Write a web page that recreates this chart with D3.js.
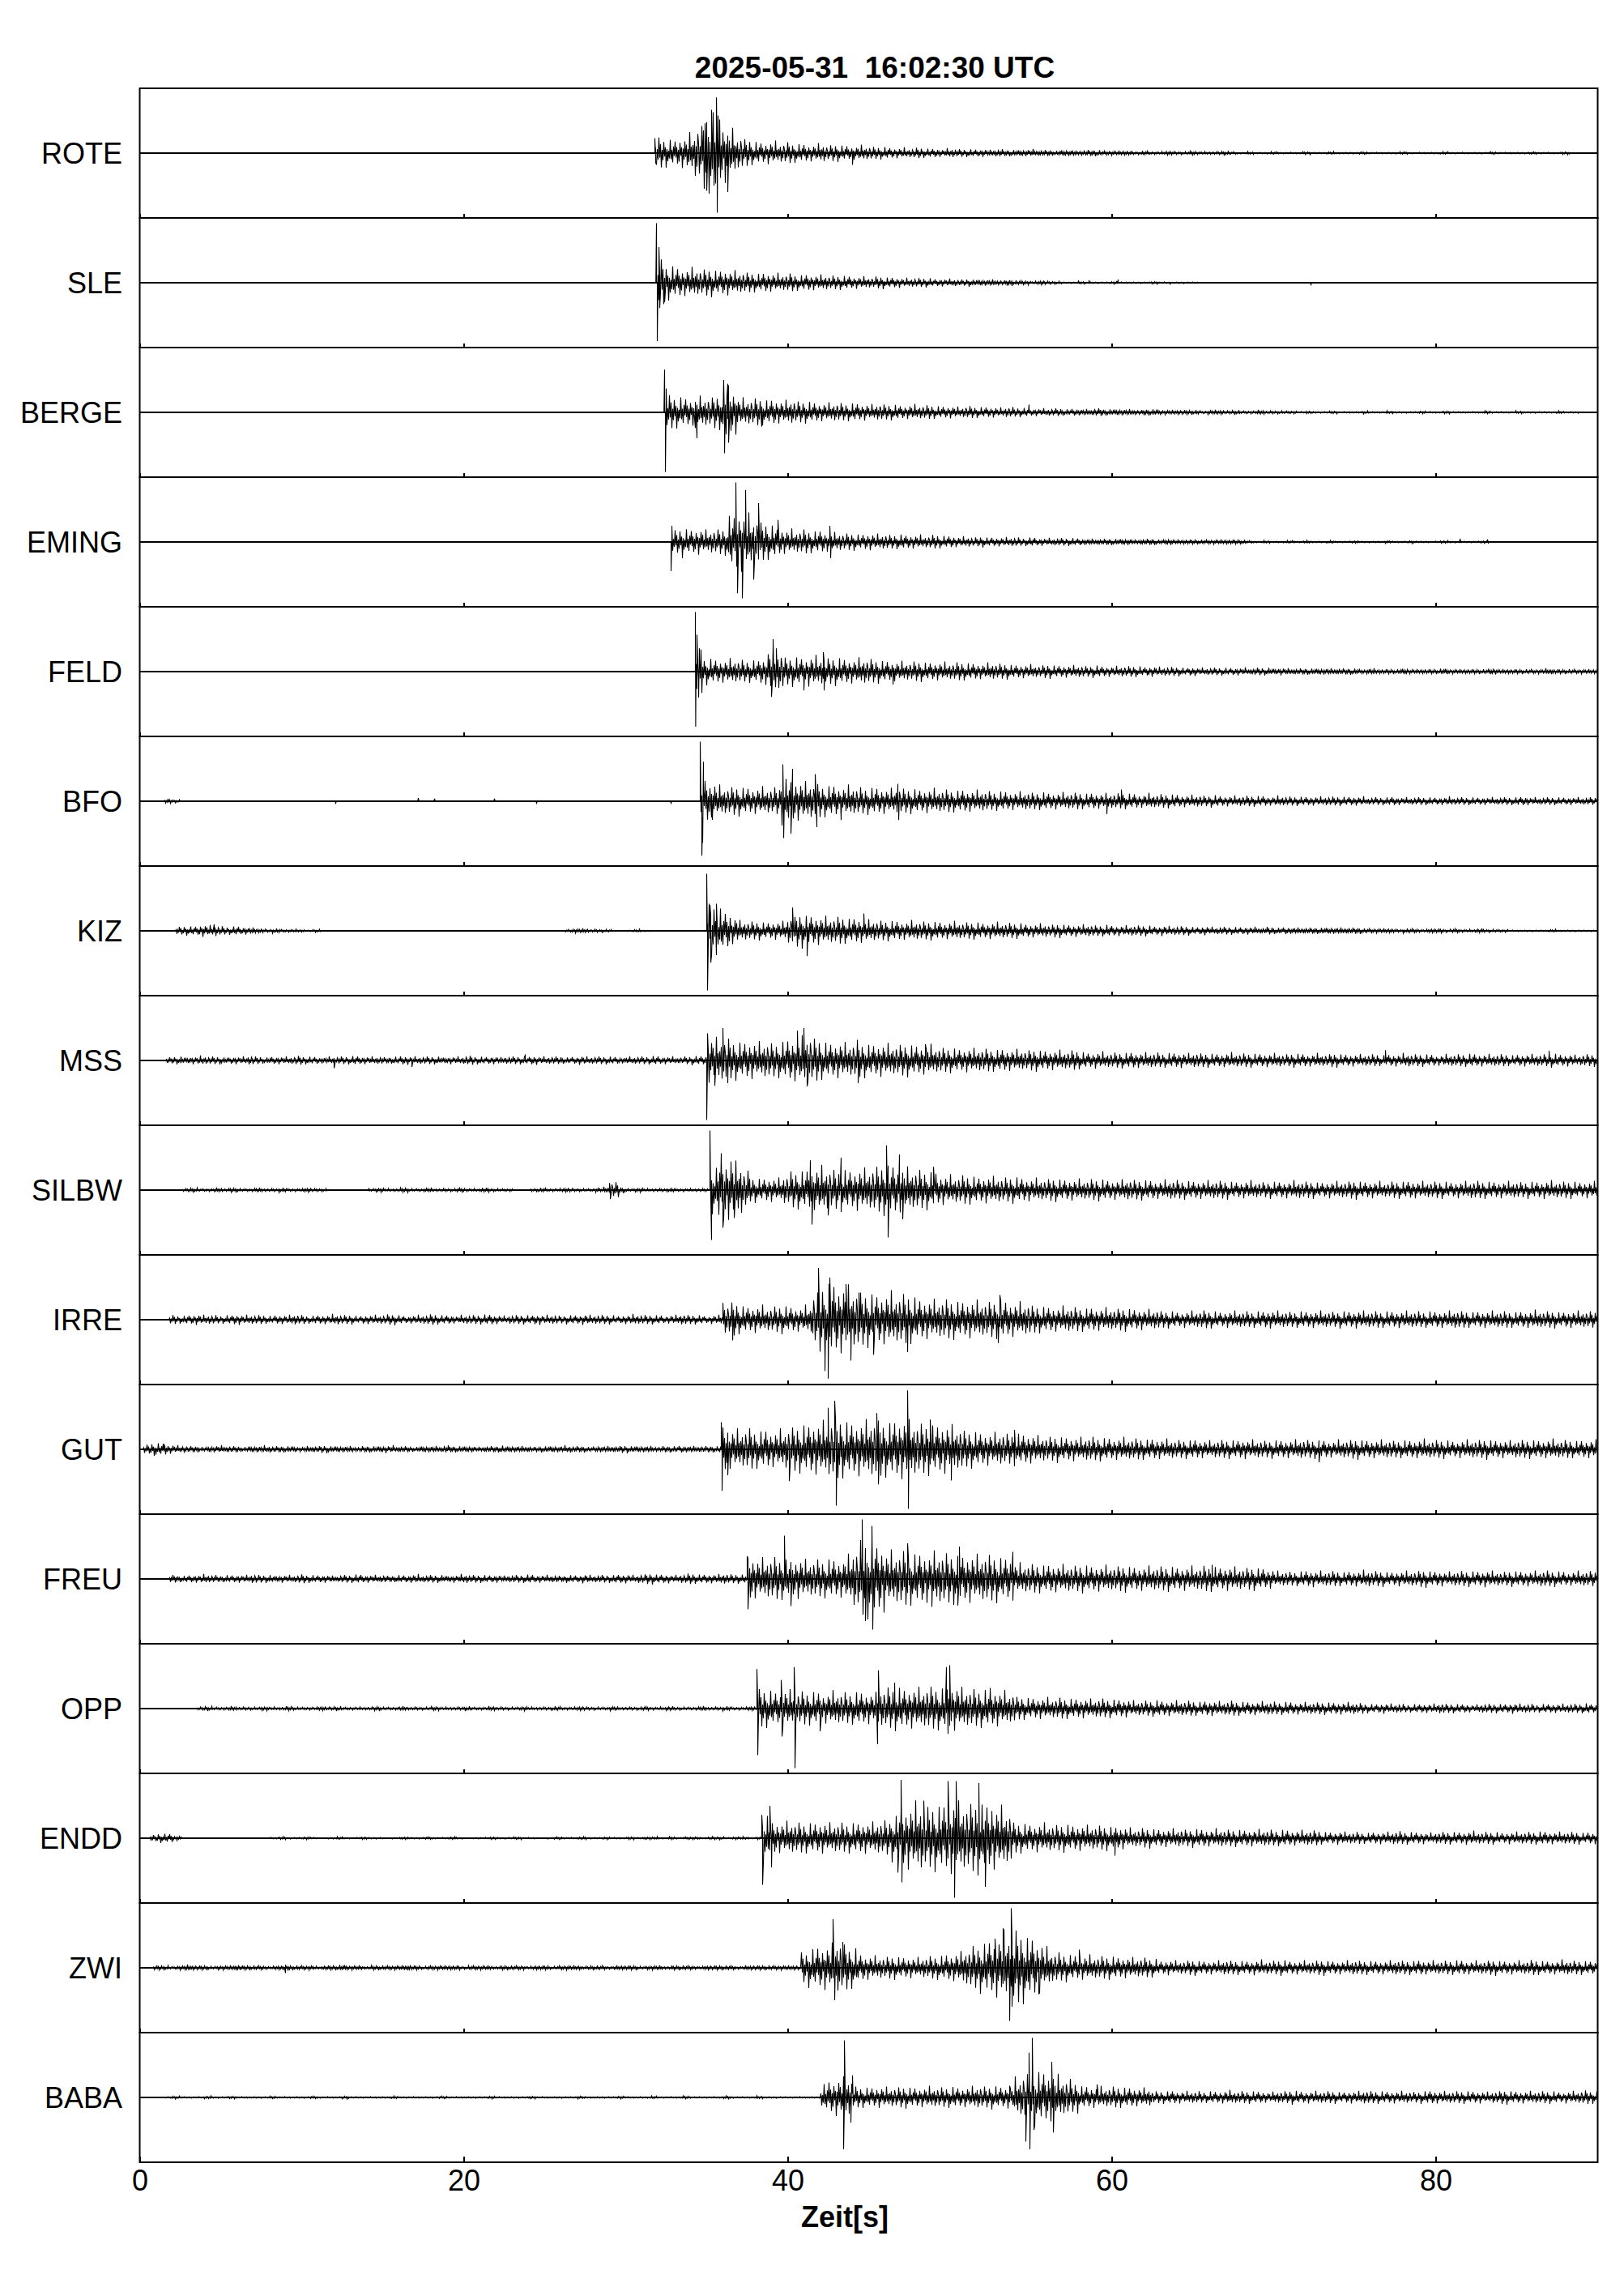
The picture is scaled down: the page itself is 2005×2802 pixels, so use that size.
<!DOCTYPE html>
<html lang="de">
  <head>
    <meta charset="UTF-8" />
    <title>Seismogramme 2025-05-31</title>
    <script src="https://d3js.org/d3.v7.min.js"></script>
    <style>
      body { margin: 0; background: #fff; }
      svg { display: block; font-family: "Liberation Sans", Arial, Helvetica, sans-serif; }
    </style>
  </head>
  <body>
    <svg width="2005" height="2802"></svg>
    <script>
      // stations, top to bottom
      var stations = ['ROTE', 'SLE', 'BERGE', 'EMING', 'FELD', 'BFO', 'KIZ', 'MSS',
        'SILBW', 'IRRE', 'GUT', 'FREU', 'OPP', 'ENDD', 'ZWI', 'BABA']
      var xTicks = [0, 20, 40, 60, 80]
      var title = '2025-05-31  16:02:30 UTC'
      var xLabel = 'Zeit[s]'

      // envelope: [start s, amplitudes in % of half trace height, one per 0.5 s]
      var envROTE = [[31.8, [20,18,17,20,25,35,50,55,40,30,22,18, 15,14,15,13,14,12, 12,11,12,10,11,10,9,10,9,8,
        8,7,7,6,7,6,6,5,6,5,5,5, 5,4,5,4,4,4,5,4,4,3,4,4,3,4,4,3,3,3, 3,2,3,2,2,3,2,2,3,2,2,2,3,2,
        1,2,1,1,2,1,1,1,2,1,1,2,1,1,1,2,1,1,1,1,2,1,1,1,1,2,1,1,1,1,1,2,1,1,1,1,2,1,1,1,2]]]
      var envSLE = [[31.95, [30,22, 20,18,19,17,18,16,17,15, 14,13,12,13,12,11,12,10,11,10,10,9,9,9,
        8,8,7,8,7,7,6,6,6,6, 5,5,5,4,5,4,4,4,3,4, 3,3,2,3,2, 2,1,1,2,1,1,1,2,1,1,1,1,2,1,1,1,1,1]]]
      var envBERGE = [[32.45, [22,20,19,18,20,19, 22,40,30, 18,17,18,16,17,15,16,14,14,
        13,12,12,12,11,12,11,10,11,10,10,9,10,9,9, 8,8,8,7,8,7,7,7,6,7,6,6,
        5,5,5,5,4,5,4,4,5,4,4,4,4,3,4,4,3, 3,3,3,3,2,3,3,2,3,2,2,3,2,2,2,2,
        1,2,1,1,2,1,1,1,2,1,1,2,1,1,1,2,1,1,2,1,1,1,1,2,1,1,1,2,1,1,1,1,2,1,1]]]
      var envEMING = [[32.8, [15,17,16,17,15,16,17, 35,40,35,30,25,22,18, 16,15,16,14,15,13,
        12,11,11,10,11,10,10,9,10,9,9,8,9,8,8, 7,7,6,7,6,6,6,6,5,6,5,5,5,5,5,5,
        4,4,4,4,4,4,3,4,4,3,4,3,3,3,3,3,3,3,3,3,
        2,1,2,1,1,2,1,2,1,1,2,1,1,2,1,1,1,2,1,1,2,1,1,1,2,1,1,1,1,2]]]
      var envFELD = [[34.3, [30, 17,16,15,16,15,14,15, 18,30,25, 18,19,18,20,18,17,18,17,16,17,16,15,
        14,13,13,12,13,12,12,12,11,12,11,11,10,11,10,10, 9,9,9,8,9,8,8,8,8,7,8,7,7,7,7,7,6,7,6,6,
        6,5,6,5,5,5,5,5,5,4,5,5,4,5,4,4,4,4,4,4,4,4,4,
        3,4,3,3,3,4,3,3,3,3,4,3,3,3,3,3,4,3,3,3,3,3,3,4,3,3,3,3,3,3]]]
      var envBFO = [[1.5, [3, 2]], [34.6, [30,25, 20,18,19,18,17,18,17,18, 30,28,26,24,22, 20,21,19,20,
        18,17,18,17,16,17,16,16,15,16,15,15,14,15,14,14,
        13,12,13,12,12,12,11,12,11,11,11,11,10,11,10,10,10,10,10,9,10,9,9,9,
        8,8,8,7,8,7,7,7,7,7,7,6,7,6,6,6,6,6,6,6,6,6,6,
        5,5,5,6,5,5,5,5,5,5,6,5,5,5,5,5,5,5,5,6,5,5,5,5,5,5,5,5,5,5]]]
      var envKIZ = [[2.2, [5,6,6,8,7,6,5,6,5,4,3,2,3,2,2,2,1,2]], [26.2, [2,3,3,2,2,2]], [30.0, [1,2,1]],
        [35.0, [35,30,25,18, 13,12,12,11,12,12, 18,22, 20,19,18,17,18,16,17,16,
          14,13,13,13,12,13,12,12,12,11,12,11,11,11,10,11,10,10,10,9,
          9,9,8,9,8,8,8,8,7,8,7,7,7,7,7,6,7,6, 6,6,5,6,5,5,5,5,5,5,4,5,4,5,4,4,4,4,4,4,4,4,4,
          3,3,3,3,2,3,3,2,3,3,2,3,2,2,3,2,2,2, 1,1,1,1,1,2,1,1,1,1,1,1]]]
      var envMSS = [[1.6, [4,5,4,5,6,5,5,4,5,5, 6,5,4,5,5,5,6,5,5,4, 5,5,5,6,5,5,5,4,5,6, 5,5,5,5,4,5,5,6,5,5,
          5,4,5,5,5,6,5,5,5,4, 5,6,5,5,5,5,4,5,5,5, 6,5,5,4,5,6,6]],
        [35.0, [30,28,28, 25,24,25,23,24,22, 25,28,30,32,28, 24,23,24,22,23,22,21,22,21,20,21,20,19,20,
          17,16,16,15,16,15,15,14,15,14,14,13,14,13,13,13,12,13,
          11,10,11,10,10,10,11,10,10,10,9,10,10,9,10,9,9,9,10,9,9,9,9,9,9,8,9,9,8,9,8,9,8,8,8,
          8,8,7,8,8,9,8,8,8,7,8,8,8,9,8,8,8,8,7,8,8,8,8,9,8,8,7,8,8,8]]]
      var envSILBW = [[2.6, [2,3,2,2,3,2,3,2,2,3, 2,2,3,2,2,3,2,2,0,0, 0,0,0,2,3,2,2,3,2,2,
          3,2,2,2,3,2,2,3,2,2, 2,0,0,2,3,2,2,3,2,2, 2,3]], [28.6, [4,10,4]], [30.1, [2,3,2,2,2,3,2,2,2,2]],
        [35.2, [30,45,40,35,25, 16,15,16,15, 20, 24,25,27,30,28,26,27,26, 28,27,30,32,33,30,28,26,25,24,
          20,19,18,19,18,17,18,17,16,17,16,15,
          15,14,15,14,14,14,13,14,14,13,13,14,13,13,13,12,13,13,12,12,12,12,12,12,
          11,11,12,11,10,11,11,11,12,11,11,10,11,11,11,12,11,11,11,10,11,11,12,11,11,11,11,10,11,11,
          12,11,11,11,11,11,10,11,11,12,11,11,11,10,11,11,11]]]
      var envIRRE = [[1.8, [6,5,6,7,6,6,5,6,7,6, 6,6,5,6,6,7,6,5,6,6, 7,6,6,5,6,6,6,7,6,5, 6,6,7,6,6,5,6,6,6,7,
          6,5,6,6,6,7,6,6,5,6, 6,7,6,6,6,5,6,7,6,6, 6,5,6,7,6,6,5,6,7]],
        [36.0, [20, 22,18,17,18,16,17,18,17,16,18, 35,45,48,45,42,38, 35,34,33,35,32,33,30,
          27,26,25,26,25,24,25,24,23,24,25,23,22,21, 18,17,17,16,17,16,15,16,15,15,14,15,14,14,13,13,
          11,11,10,11,11,12,11,10,11,11,11,10,11,12,11,11,10,11,11,11,11,10,11,11,12,11,11,10,11,11,
          11,11,10,11,11,11,12,11,10,11,11,11,11,10,11,11,12,11,11,10,11,11,11,11,10]]]
      var envGUT = [[0.2, [6,8,8,6,5]],
        [2.7, [4,4,3,4,5,4,4,3,4,4, 5,4,4,4,3,4,4,5,4,4, 4,3,4,4,4,5,4,4,3,4, 4,4,5,4,4,4,3,4,4,5,
          4,4,4,3,4,4,4,5,4,4, 3,4,4,4,5,4,4,4,3,4, 4,5,4,4,4,4,5]],
        [35.9, [32, 26,25,27,24,26,24,25,28, 30,32,34,35,38,40,36,35, 36,38,37,35,38,40,36,33,
          33,32,33,30,28, 24,23,22,21,22,20,21,20,19, 17,16,17,16,16,15,16,15,15,14,15,14,14,13,14,13,13,
          12,12,13,12,11,12,12,12,13,12,12,11,12,12,12,13,12,12,12,11,12,12,13,12,12,12,12,11,12,12,
          13,12,12,12,11,12,12,12,13,12,12,11,12,12,12,12,13,12,12,11,12,12,12]]]
      var envFREU = [[1.8, [5,4,5,5,6,5,4,5,5,5, 6,5,5,4,5,5,6,5,5,5, 4,5,5,6,5,5,5,4,5,5, 6,5,5,5,4,5,6,5,5,5,
          5,4,5,5,6,5,5,5,4,5, 5,6,5,5,5,6,6,5,6,7, 6,6,5,6,7,6,6,6,7,6, 6,6]],
        [37.5, [30, 26,27,28,26,25,27,24,25,24,26,25, 30,40,50,52,45,
          35,34,36,33,34,32,34,33,32,31,32,30,31,30,28,29,
          20,19,19,18,19,18,18,17,18,17,17,17,16,17,16,16,16,16,16,16, 15,16,15,17,16,15,16,15,14,15,14,13,
          10,10,9,10,11,10,10,10,9,10,10,11,10,10,9,10,10,10,11,10,10,9,10,10,10,10,11,10,9,10,
          10,10,10,11,10,10,9,10,10,10,10]]]
      var envOPP = [[3.5, [2,3,2,2,3,2,2,2,3,2, 2,3,2,2,2,3,2,3,2,2, 2,2,3,2,2,3,2,2,2,3, 2,2,2,3,2,2,3,2,2,2,
          3,2,2,2,3,2,2,3,2,2, 2,3,2,2,2,3,2,2,3,2, 2,2,3,2,2,3,2,2,3,2]],
        [38.1, [25, 24,22,25,23, 22,21,22,20,22,21,20,22,21,20, 25,27,28,26,27,26,28,27,28,30, 26,25,24,25,24,22,20,
          15,14,14,14,13,14,13,13,13,12,13,12,12,12,
          10,10,10,11,10,10,10,10,9,10,10,9,10,9,9,9,9,9,8,9,8,8,8,8,8,8,8,8,7,
          6,6,7,6,6,5,6,6,6,7,6,6,6,5,6,6,6,6,7,6,6,5,6,6,6,6,6,7,6,6]]]
      var envENDD = [[0.6, [4,6,6,3]],
        [2.6, [0,0,0,0,0,0,0,0,0,0, 0,1,2,1,1,2,1,0,1,2, 1,1,2,1,1,0,1,2,1,1, 2,1,1,2,1,0,1,1,2,1,
          1,2,1,1,0,1,2,1,1,2, 1,1,2,1,1,2,1,2,2,1, 2,1,2,2,1,2,2,1,2,2, 1,2]],
        [38.4, [30,22,20,21,20,19,20,21,19,20,19,20,21,20,22,23, 30, 40,42,45,40,42,45,48,45,44,46,45,42,40,35,
          20,19,18,19,18,17,18,17,17,16,16,16,15,15,
          13,12,13,12,12,12,12,11,12,12,11,12,11,11,11,11,11,11,10,11,10,10,10,10,
          8,8,9,8,8,7,8,8,8,9,8,8,8,7,8,8,8,8,9,8,8,8,7,8,8,8,8,9,8,8,8,8,7,8,8,8]]]
      var envZWI = [[0.8, [3,3,2,3,4,3,3,2,3,3, 4,3,3,3,2,3,4,3,3,3, 2,3,3,4,3,3,2,3,3,3, 3,4,3,2,3,3,3,3,2,3,
          3,3,2,3,3,3,2,3,3,2, 3,3,3,2,3,3,2,3,3,3, 2,3,3,2,3,3,3,2,3,3, 3,3,2,3,3,3,3,3,3,3, 3]],
        [40.8, [20,25,28,30,35,30,26, 18,16,15,14,15,14,14,13,14,15,16,18,20,
          24,28,32,36,40,45,48,45,40,34,26, 20,18,17,16,16,15,15,15,14,14,13,13,12,
          9,10,9,9,10,9,9,9,10,9,9,9,10,9,9,10,9,9,9,9,10,9,9,9,10,9,9,9,9,10,
          9,9,10,9,9,9,9,10,9,9,9,10,9,9,9,9,10,9,9,9,10,9,9,9,9]]]
      var envBABA = [[1.5, [1,2,1,1,1,2,1,1,2,1, 1,1,1,2,1,1,1,1,2,1, 1,1,2,1,1,1,1,1,2,1, 1,1,1,1,2,1,1,1,1,1,
          2,1,1,1,1,2,1,1,1,1, 1,2,1,1,1,1,2,1,1,1, 2,1,1,1,2,1,1,1,1,2, 1,1,1,2,1,1,1,1,1,1, 1,1]],
        [42.0, [18,22,25,25, 14,13,13,14,13,13,14,13,13,14,13,13,14, 13,14,15,14,15,14,15,
          25,30,35,34,32,28,24,20, 15,14,14,13,14,13,13,12,12,
          8,8,9,8,8,8,7,8,8,9,8,8,8,8,7,8,8,9,8,8,8,8,8,7,8,8,9,8,8,8,
          8,8,7,8,9,8,8,8,8,8,8,7,8,9,8,8,8,8,8,8,7,8,8,9,8,8]]]

      // single large swings: [time s, amplitude %]
      var pkROTE = [[31.8, 23], [31.85, -15], [34.9, 46], [35.0, -58], [35.3, 67], [35.45, -50], [35.6, 86],
        [35.65, -92], [35.8, 52], [36.3, -60], [44.0, -18]]
      var pkSLE = [[31.9, 92], [31.95, -90], [32.05, 55], [32.1, -39], [32.2, 36], [32.4, -30],
        [58.6, 4], [60.4, 5], [63.6, -3], [72.3, -3]]
      var pkBERGE = [[32.4, 66], [32.45, -92], [32.5, 37], [34.3, -24], [34.4, -40], [36.05, 50], [36.1, -63],
        [36.3, 44], [36.35, -47], [38.4, -22], [54.9, 12]]
      var pkEMING = [[32.8, -45], [32.85, 25], [33.5, -25], [36.8, 92], [36.9, -79], [37.2, -87], [37.4, 80],
        [37.9, -58], [38.2, 60], [39.4, 34], [42.6, 25], [42.65, -25], [81.5, 5], [83.2, 4]]
      var pkFELD = [[34.3, 92], [34.32, -85], [34.4, 57], [34.5, -40], [34.65, 34], [39.0, -39], [39.1, 50],
        [39.3, 36], [41.0, -29], [42.2, 30], [42.25, -29], [46.5, -20]]
      var pkBFO = [[12.1, -3], [17.2, 5], [18.2, 4], [21.9, 4], [24.5, -3], [32.8, -3], [34.6, 92], [34.7, -84],
        [34.75, -64], [34.8, 61], [35.3, -25], [39.7, 57], [39.75, -57], [40.2, -50], [40.3, 50], [41.7, 42],
        [41.8, -40], [43.3, -29], [46.8, 27], [46.85, -29], [59.7, -20], [60.6, 18]]
      var pkKIZ = [[4.6, 10], [4.7, -8], [35.0, 88], [35.05, -92], [35.2, 40], [35.25, -49], [35.6, 42],
        [40.3, 36], [41.2, -39], [44.7, 27]]
      var pkMSS = [[12.0, -12], [16.8, -10], [23.8, 8], [35.0, -92], [35.05, 42], [35.5, -39], [36.0, 50],
        [36.3, -35], [40.6, 46], [41.0, 50], [41.2, -40], [44.3, 32], [44.35, -35], [48.5, 25], [76.9, 16], [87.0, 15]]
      var pkSILBW = [[29.0, 11], [29.05, -14], [35.2, 92], [35.3, -77], [35.9, 57], [36.0, -58], [36.5, 44],
        [36.7, -43], [41.4, 46], [41.5, -53], [42.5, -39], [43.3, 50], [46.1, 69], [46.2, -73], [46.9, 55],
        [47.1, -45], [49.0, 36]]
      var pkIRRE = [[36.0, 26], [36.6, -32], [41.9, 80], [42.3, -79], [42.5, -91], [42.6, 65], [43.6, 55],
        [43.9, -63], [44.4, 42], [45.3, -54], [47.4, -50], [53.0, -36], [53.1, 38]]
      var pkGUT = [[1.0, -8], [1.5, 8], [35.9, 42], [35.95, -64], [36.3, -40], [40.1, -49], [42.5, 64],
        [42.9, 75], [43.0, -87], [45.5, 56], [45.6, -54], [47.4, 91], [47.45, -92], [48.8, 46], [50.1, -48],
        [54.0, 30], [72.8, -20]]
      var pkFREU = [[37.5, 35], [37.55, -47], [39.8, 67], [40.2, -42], [44.6, 92], [44.8, -65], [45.2, 82],
        [45.25, -78], [47.4, 55], [48.9, -43], [50.5, -41], [50.6, 50], [53.9, 42], [66.2, 22]]
      var pkOPP = [[38.1, 61], [38.15, -72], [39.6, 44], [39.65, -43], [40.4, 64], [40.45, -92], [42.0, -35],
        [45.55, -55], [45.6, 59], [46.6, 40], [49.8, 64], [49.9, -39], [50.0, 67], [52.5, 32]]
      var pkENDD = [[38.4, 36], [38.45, -72], [38.9, 50], [39.0, -45], [46.8, -53], [47.0, 90], [47.05, -68],
        [48.4, 58], [49.9, 88], [50.3, -92], [50.4, 88], [51.8, 85], [52.2, -75], [52.6, 42], [60.2, -27]]
      var pkZWI = [[9.0, -8], [42.8, 75], [42.9, -50], [43.4, 40], [52.8, 45], [53.3, 60], [53.7, -82],
        [53.8, 92], [53.85, -60], [55.5, -40], [58.0, 28]]
      var pkBABA = [[43.45, -80], [43.5, 88], [43.9, -39], [44.0, 34], [53.7, 18], [54.7, -68], [54.9, 69],
        [54.95, -80], [55.1, 92], [55.2, -50], [56.3, 55], [56.4, -54], [59.1, 20]]

      var envs = [envROTE, envSLE, envBERGE, envEMING, envFELD, envBFO, envKIZ, envMSS,
        envSILBW, envIRRE, envGUT, envFREU, envOPP, envENDD, envZWI, envBABA]
      var peaks = [pkROTE, pkSLE, pkBERGE, pkEMING, pkFELD, pkBFO, pkKIZ, pkMSS,
        pkSILBW, pkIRRE, pkGUT, pkFREU, pkOPP, pkENDD, pkZWI, pkBABA]

      // fixed up/down stroke pattern used to draw the envelope as a wiggle
      var grain = [0.4, -0.9, 0.3, -0.5, 1.2, -0.35, 0.7, -1.1, 0.25, -0.6, 0.95, -0.3, 0.5, -1.25, 0.35,
        -0.7, 0.2, -0.45, 1.15, -0.55, 0.3, -0.85, 0.6, -0.25, 1.05, -0.4, 0.55, -0.95, 0.3, -0.65, 0.8,
        -0.2, 0.45, -1.15, 0.35, -0.5, 0.9, -0.3, 0.65, -0.75, 0.25, -0.55, 1.3, -0.45, 0.4, -0.8, 0.5,
        -0.35, 0.75, -1.0, 0.3, -0.6, 0.85]
      var step = 0.05

      var svg = d3.select('svg')
      var plotLeft = 172.5, plotRight = 1972.5, plotTop = 109, ph = 160
      var x = d3.scaleLinear().domain([0, 90]).range([plotLeft, plotRight])

      svg.append('rect').attr('width', 2005).attr('height', 2802).attr('fill', '#fff')

      function buildTrace(env, pk) {
        var pts = []
        var g = 0
        env.forEach(function (seg, si) {
          var t0 = seg[0], vals = seg[1]
          var tEnd = t0 + vals.length * 0.5
          if (si + 1 < env.length) tEnd = Math.min(tEnd, env[si + 1][0])
          tEnd = Math.min(tEnd, 90)
          pts.push({ t: t0, v: 0 })
          for (var k = 1; t0 + k * step < tEnd - 1e-6; k++) {
            var a = vals[Math.floor(k * step / 0.5)]
            pts.push({ t: t0 + k * step, v: a * grain[g++ % grain.length] })
          }
          pts.push({ t: tEnd, v: 0 })
        })
        pk.forEach(function (p) {
          var inside = env.some(function (s) {
            return p[0] > s[0] && p[0] < s[0] + s[1].length * 0.5
          })
          if (!inside) {
            pts.push({ t: p[0] - 0.04, v: 0 })
            pts.push({ t: p[0] + 0.04, v: 0 })
          }
          pts.push({ t: p[0], v: p[1] })
        })
        pts.sort(function (a, b) { return a.t - b.t })
        return pts
      }

      stations.forEach(function (name, i) {
        var y0 = plotTop + i * ph
        var y = d3.scaleLinear().domain([-100, 100]).range([y0 + ph, y0])
        var g = svg.append('g')

        // zero line
        g.append('line')
          .attr('x1', plotLeft).attr('x2', plotRight)
          .attr('y1', y(0)).attr('y2', y(0))
          .attr('stroke', '#000').attr('stroke-width', 2)

        var line = d3.line()
          .x(function (d) { return x(d.t) })
          .y(function (d) { return y(d.v) })

        g.append('path')
          .datum(buildTrace(envs[i], peaks[i]))
          .attr('d', line)
          .attr('fill', 'none')
          .attr('stroke', '#000')
          .attr('stroke-width', 1.1)

        g.append('rect')
          .attr('x', plotLeft).attr('y', y0)
          .attr('width', plotRight - plotLeft).attr('height', ph)
          .attr('fill', 'none').attr('stroke', '#000').attr('stroke-width', 2)

        g.append('text')
          .attr('x', 151).attr('y', y(0) + 13)
          .attr('text-anchor', 'end')
          .attr('font-size', 36)
          .text(name)

        var last = i === stations.length - 1
        var axis = d3.axisBottom(x)
          .tickValues(xTicks)
          .tickSizeInner(last ? -7 : -5)
          .tickSizeOuter(0)
          .tickPadding(9)
        if (!last) axis.tickFormat(function () { return '' })

        var ax = g.append('g')
          .attr('transform', 'translate(0,' + (y0 + ph) + ')')
          .call(axis)
        ax.select('.domain').remove()
        ax.selectAll('.tick line').attr('stroke', '#000').attr('stroke-width', 2)
        ax.selectAll('.tick text')
          .attr('fill', '#000')
          .attr('font-size', 36)
          .attr('font-family', '"Liberation Sans", Arial, Helvetica, sans-serif')
      })

      svg.append('text')
        .attr('x', 1080).attr('y', 96)
        .attr('text-anchor', 'middle')
        .attr('font-size', 37)
        .attr('font-weight', 'bold')
        .style('white-space', 'pre')
        .text(title)

      svg.append('text')
        .attr('x', 1043).attr('y', 2749)
        .attr('text-anchor', 'middle')
        .attr('font-size', 36)
        .attr('font-weight', 'bold')
        .text(xLabel)
    </script>
  </body>
</html>
